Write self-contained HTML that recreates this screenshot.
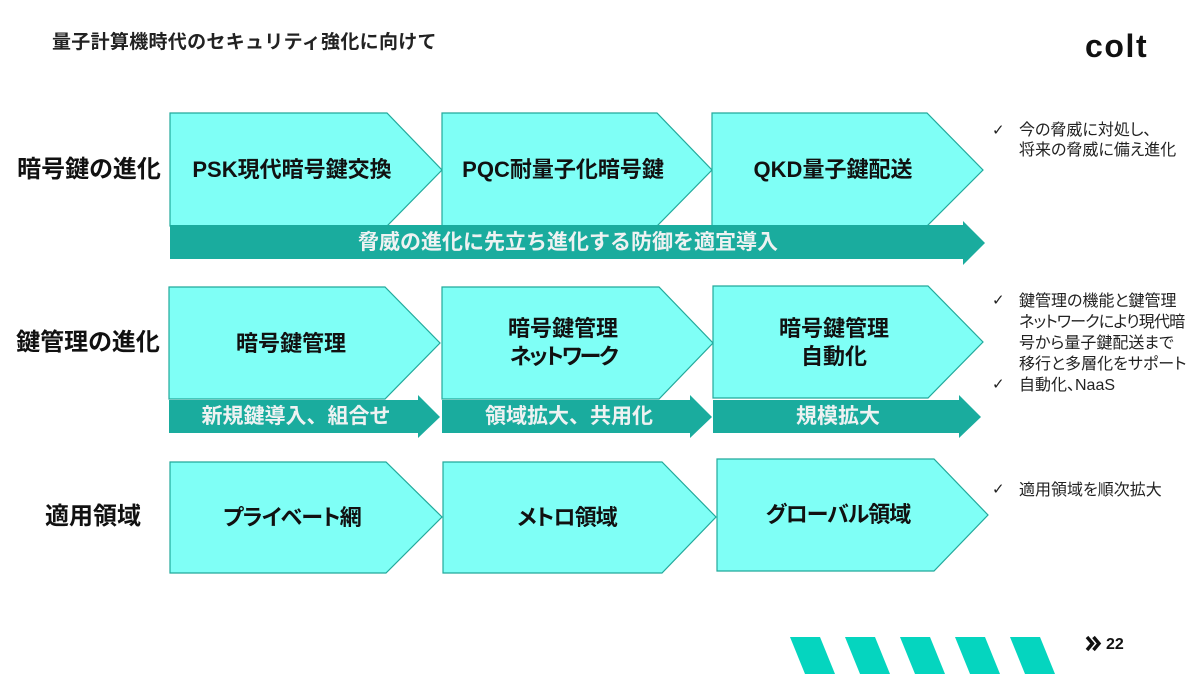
<!DOCTYPE html>
<html><head><meta charset="utf-8">
<style>
html,body{margin:0;padding:0;background:#fff;}
body{width:1200px;height:674px;position:relative;overflow:hidden;font-family:"Liberation Sans","Noto Sans CJK JP",sans-serif;color:#111;}
svg{position:absolute;left:0;top:0;}
.t{position:absolute;white-space:nowrap;transform:translate(-50%,-50%);font-feature-settings:"palt" 1;}
.bx{font-weight:700;font-size:22px;line-height:28px;text-align:center;color:#111;}
.br{font-weight:700;font-size:21px;line-height:24px;color:#eef2f2;font-feature-settings:normal;}
.lbl{font-weight:700;font-size:24px;line-height:28px;color:#111;}
.r{position:absolute;white-space:nowrap;font-size:16px;color:#222;font-feature-settings:"palt" 1;}
.ck{position:absolute;font-family:"DejaVu Sans",sans-serif;font-size:15px;color:#222;}
</style></head><body>
<svg width="1200" height="674" viewBox="0 0 1200 674">
<g fill="#7ffff6" stroke="#22a99b" stroke-width="1.2">
<polygon points="170,113 387,113 442,170 387,226 170,226"/>
<polygon points="442,113 657,113 712,170 657,226 442,226"/>
<polygon points="712,113 927,113 983,170 927,226 712,226"/>
<polygon points="169,287 385,287 440,343 385,399 169,399"/>
<polygon points="442,287 659,287 713,343 659,399 442,399"/>
<polygon points="713,286 928,286 983,342 928,398 713,398"/>
<polygon points="170,462 386,462 442,517 386,573 170,573"/>
<polygon points="443,462 662,462 716,517 662,573 443,573"/>
<polygon points="717,459 934,459 988,515 934,571 717,571"/>
</g>
<g fill="#1aac9e">
<polygon points="170,225 963,225 963,221 985,243 963,265 963,259 170,259"/>
<polygon points="169,400 418,400 418,395 440,417 418,438 418,433 169,433"/>
<polygon points="442,400 690,400 690,395 712,417 690,438 690,433 442,433"/>
<polygon points="713,400 959,400 959,395 981,417 959,438 959,433 713,433"/>
</g>
<g fill="#05d5bf">
<polygon points="790,637 820,637 835,674 805,674"/>
<polygon points="845,637 875,637 890,674 860,674"/>
<polygon points="900,637 930,637 945,674 915,674"/>
<polygon points="955,637 985,637 1000,674 970,674"/>
<polygon points="1010,637 1040,637 1055,674 1025,674"/>
</g>
<text x="1085" y="57" font-family="Liberation Sans, sans-serif" font-weight="700" font-size="32" letter-spacing="1.6" fill="#111">colt</text>
<g fill="none" stroke="#111" stroke-width="3.4" stroke-linejoin="miter">
<polyline points="1087,637 1092.5,643.5 1087,650"/>
<polyline points="1093.5,637 1099,643.5 1093.5,650"/>
</g>
<text x="1106" y="649" font-family="Liberation Sans, sans-serif" font-weight="700" font-size="16" fill="#111">22</text>
</svg>

<div class="t" style="left:52px;top:43px;transform:translate(0,-50%);font-weight:700;font-size:19px;line-height:22px;color:#222;letter-spacing:0.3px;font-feature-settings:normal;">量子計算機時代のセキュリティ強化に向けて</div>

<div class="t lbl" style="left:89px;top:170px;">暗号鍵の進化</div>
<div class="t lbl" style="left:88px;top:343px;">鍵管理の進化</div>
<div class="t lbl" style="left:93px;top:517px;">適用領域</div>

<div class="t bx" style="left:292px;top:170px;">PSK現代暗号鍵交換</div>
<div class="t bx" style="left:563px;top:170px;">PQC耐量子化暗号鍵</div>
<div class="t bx" style="left:833px;top:170px;">QKD量子鍵配送</div>
<div class="t br" style="left:568px;top:243px;">脅威の進化に先立ち進化する防御を適宜導入</div>

<div class="t bx" style="left:291px;top:344px;">暗号鍵管理</div>
<div class="t bx" style="left:563px;top:343px;">暗号鍵管理<br><span style="letter-spacing:-2.3px;">ネットワーク</span></div>
<div class="t bx" style="left:834px;top:343px;">暗号鍵管理<br>自動化</div>
<div class="t br" style="left:296px;top:417px;">新規鍵導入、組合せ</div>
<div class="t br" style="left:569px;top:417px;">領域拡大、共用化</div>
<div class="t br" style="left:838px;top:417px;">規模拡大</div>

<div class="t bx" style="left:292px;top:518px;letter-spacing:-0.8px;">プライベート網</div>
<div class="t bx" style="left:567px;top:518px;letter-spacing:-1px;">メトロ領域</div>
<div class="t bx" style="left:838px;top:515px;letter-spacing:-1px;">グローバル領域</div>

<div class="ck" style="left:992px;top:121px;">✓</div>
<div class="r" style="left:1019px;top:121px;line-height:20px;">今の脅威に対処し、<br>将来の脅威に備え進化</div>

<div class="ck" style="left:992px;top:291px;">✓</div>
<div class="r" style="left:1019px;top:291px;line-height:21px;">鍵管理の機能と鍵管理<br><span style="letter-spacing:-0.8px;">ネットワークにより現代暗</span><br>号から量子鍵配送まで<br>移行と多層化をサポート</div>
<div class="ck" style="left:992px;top:375px;">✓</div>
<div class="r" style="left:1019px;top:375px;line-height:21px;">自動化、NaaS</div>

<div class="ck" style="left:992px;top:480px;">✓</div>
<div class="r" style="left:1019px;top:480px;line-height:21px;">適用領域を順次拡大</div>
</body></html>
